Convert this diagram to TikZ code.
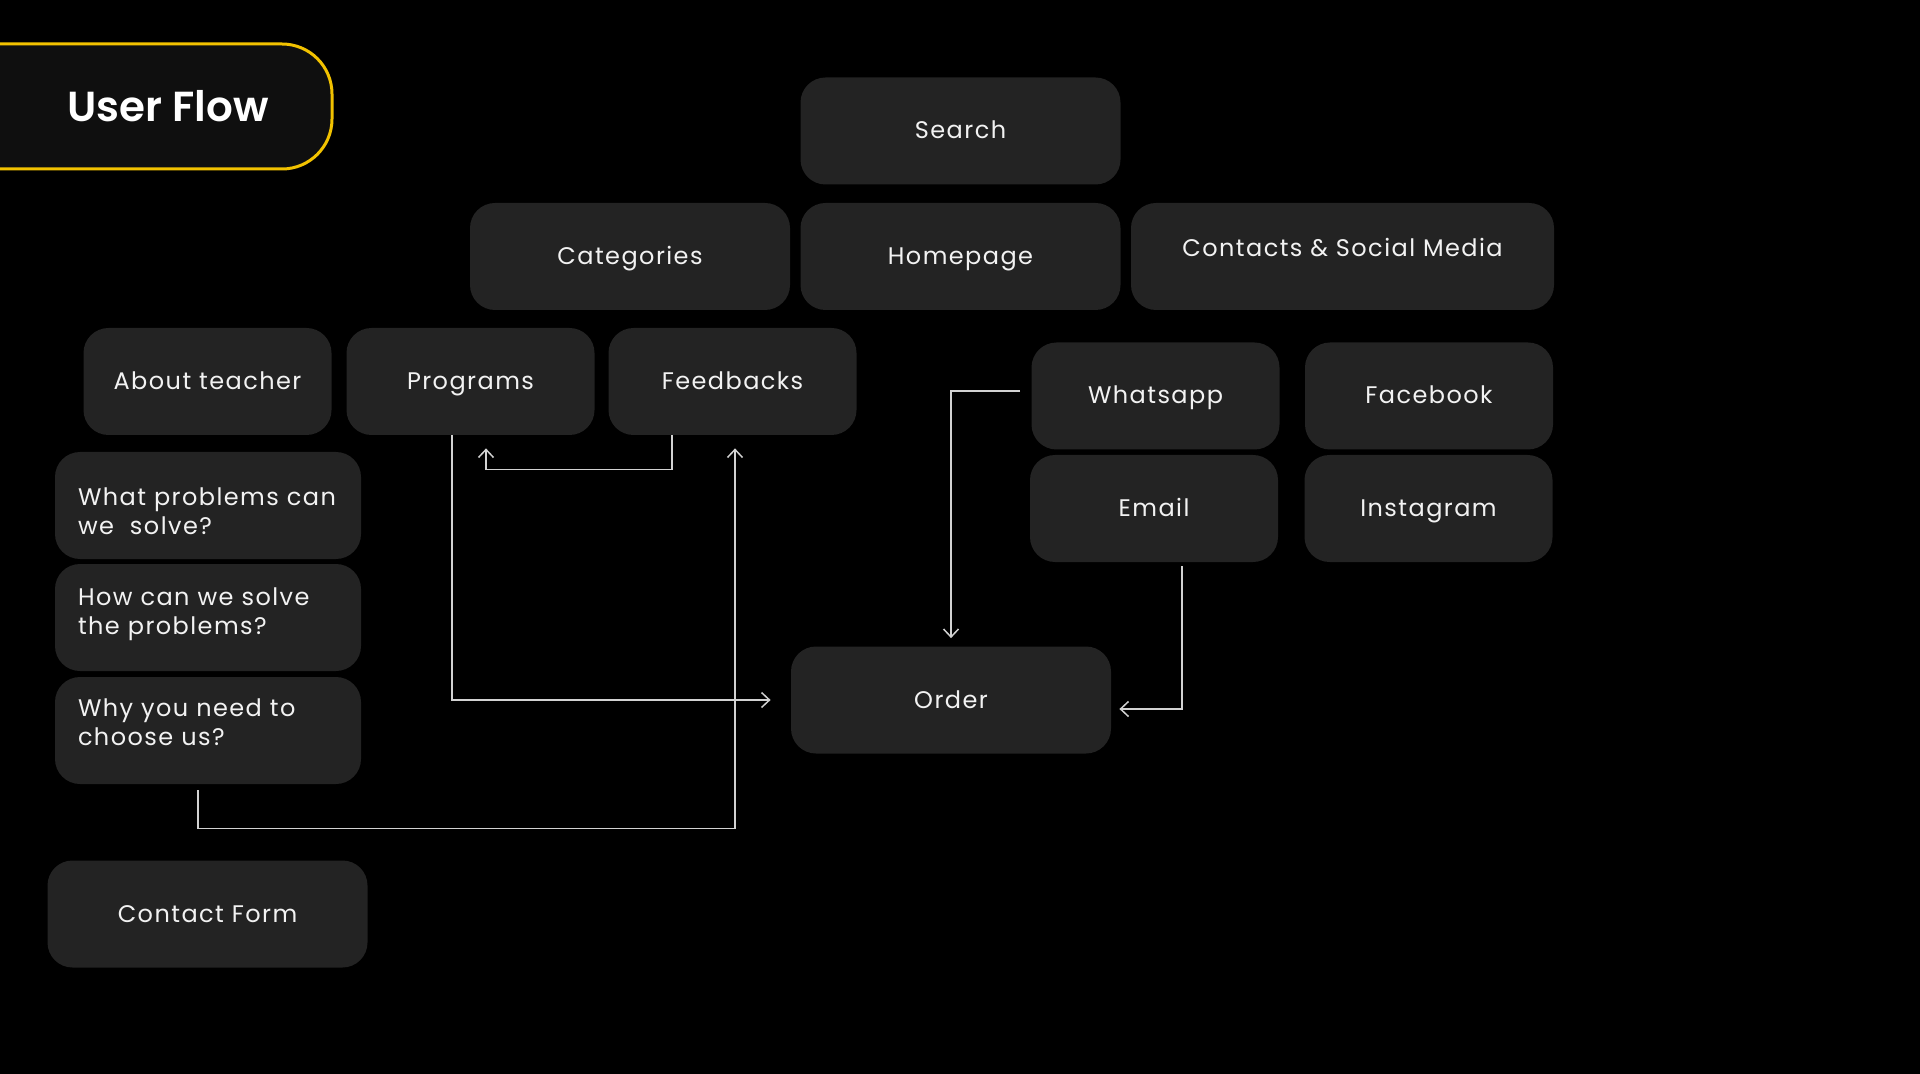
\documentclass[tikz,border=0pt]{standalone}
\usepackage{fontspec}
\IfFontExistsTF{Poppins SemiBold}
	{\setmainfont{Poppins}[BoldFont={Poppins SemiBold}]}
	{\setmainfont{Poppins}}
\newfontfamily\boxfont[LetterSpace=6]{Poppins}
\usetikzlibrary{arrows.meta}

\definecolor{boxgray}{HTML}{232323}
\definecolor{boxtext}{HTML}{F2F2F2}
\definecolor{linegray}{HTML}{D2D2D2}
\definecolor{titlefill}{HTML}{0F0F0F}
\definecolor{flowyellow}{HTML}{F2C200}

\begin{document}
\begin{tikzpicture}[x=0.5pt, y=-0.5pt,
	box/.style={fill=boxgray, rounded corners=12.5pt, minimum height=53.5pt, inner sep=0pt, text=boxtext, font=\boxfont\fontsize{12}{14.5}\selectfont, text height=8pt, text depth=0pt},
	wide/.style={box, minimum width=160pt},
	small/.style={box, minimum width=124pt},
	qbox/.style={fill=boxgray, rounded corners=12.5pt, minimum height=53.5pt, minimum width=153pt, inner xsep=11.5pt, inner ysep=0pt, text width=130pt, align=left, text=boxtext, font=\boxfont\fontsize{12}{14.5}\selectfont},
	flow/.style={draw=linegray, line width=0.75pt, -{Straight Barb[length=4pt,width=7.5pt]}}]
	\fill[black] (0,0) rectangle (1920,1074);
	\useasboundingbox (0,0) rectangle (1920,1074);
	% title
	\node[draw=flowyellow, line width=1.5pt, fill=titlefill, rounded corners=25pt, minimum width=196pt, minimum height=62.5pt] (titlebox) at (136,106.5) {};
	\node[text=white, font=\fontsize{21}{25}\selectfont\bfseries] (title) at (168,106.5) {User Flow};
	% top rows
	\node[wide] (search) at (960.5,131) {Search};
	\node[wide] (cat) at (630,256.5) {Categories};
	\node[wide] (home) at (960.5,256.5) {Homepage};
	\node[box, minimum width=211.5pt, text depth=8pt] (contacts) at (1342.5,256.5) {Contacts \& Social Media};
	\node[small] (about) at (207.5,381.5) {About teacher};
	\node[small] (prog) at (470.5,381.5) {Programs};
	\node[small] (fb) at (732.5,381.5) {Feedbacks};
	\node[small] (wa) at (1155.5,396) {Whatsapp};
	\node[small] (facebook) at (1429,396) {Facebook};
	\node[small] (email) at (1154,508.5) {Email};
	\node[small] (insta) at (1428.5,508.5) {Instagram};
	% questions
	\node[qbox, text depth=8.6pt] (what) at (208,505.5) {\mbox{What problems can}\\we\ \ solve?};
	\node[qbox, text depth=21pt] (how) at (208,617.5) {How can we solve\\the problems?};
	\node[qbox, text depth=23pt] (why) at (208,730.5) {Why you need to\\choose us?};
	\node[wide] (order) at (951,700) {Order};
	\node[wide] (form) at (207.5,914) {Contact Form};
	% connectors
	\draw[flow, shorten >=10pt] ([xshift=-9.25pt]prog.south) |- (order.west);
	\draw[flow, shorten >=6.5pt] ([xshift=-30.25pt]fb.south) -- ++(0,34) -| ([xshift=7.75pt]prog.south);
	\draw[flow, shorten <=3pt, shorten >=6.5pt] ([xshift=-5pt]why.south) -- ++(0,44) -| ([xshift=1.25pt]fb.south);
	\draw[flow, shorten <=5.5pt, shorten >=4pt] ([yshift=2.5pt]wa.west) -| (order.north);
	\draw[flow, shorten <=2pt, shorten >=4pt] ([xshift=14pt]email.south) |- ([yshift=-4.5pt]order.east);
\end{tikzpicture}
\end{document}
